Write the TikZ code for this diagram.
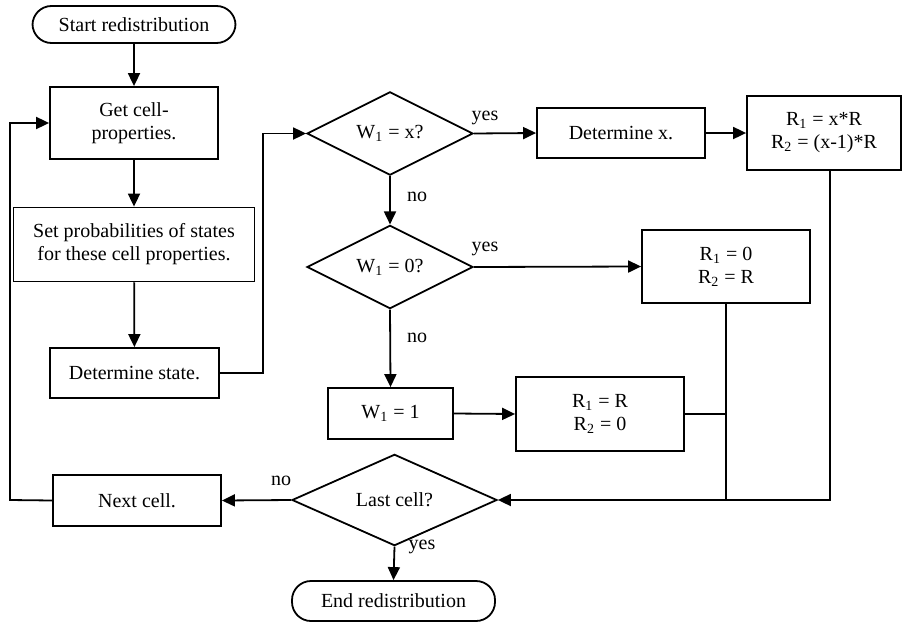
\documentclass[tikz,border=0pt]{standalone}
\usepackage{fontspec}
\setmainfont{Liberation Serif}
\usetikzlibrary{shapes.geometric,arrows.meta}
\begin{document}
\begin{tikzpicture}[x=0.5pt,y=-0.5pt,
  every node/.style={font=\fontsize{10}{11.5}\selectfont},
  box/.style={draw,line width=0.9pt,inner sep=0pt,align=center},
  term/.style={draw,line width=0.9pt,rounded corners=9.5pt,inner sep=0pt},
  dec/.style={draw,diamond,line width=0.9pt,inner sep=0pt},
  arr/.style={line width=0.9pt,-{Triangle[length=6.5pt,width=6pt]}},
  ln/.style={line width=0.9pt},
  lbl/.style={inner sep=0pt}]
\useasboundingbox (0,0) rectangle (903,626);
\node[term,minimum width=101.5pt,minimum height=18.5pt] (start) at (134,24.5) {Start redistribution};
\node[box,minimum width=84pt,minimum height=36pt] (get) at (134,123) {Get cell-\\properties.};
\node[box,minimum width=120.5pt,minimum height=37pt] (setp) at (134,244.5) {Set probabilities of states\\for these cell properties.};
\node[box,minimum width=84.5pt,minimum height=25pt] (dets) at (134.5,373) {Determine state.};
\node[dec,minimum width=83pt,minimum height=36.5pt] (d1) at (390,133.5) {W\textsubscript{1} = x?};
\node[box,minimum width=84pt,minimum height=25pt] (detx) at (621,133) {Determine x.};
\node[box,minimum width=77pt,minimum height=37pt] (r1) at (824,133) {R\textsubscript{1} = x*R\\R\textsubscript{2} = (x-1)*R};
\node[dec,minimum width=83pt,minimum height=36pt] (d2) at (390,267) {W\textsubscript{1} = 0?};
\node[box,minimum width=84pt,minimum height=36.5pt] (r0) at (726,266.5) {R\textsubscript{1} = 0\\R\textsubscript{2} = R};
\node[box,minimum width=62.5pt,minimum height=25.5pt] (w1) at (390.5,413.5) {W\textsubscript{1} = 1};
\node[box,minimum width=84pt,minimum height=37pt] (rr) at (600,414) {R\textsubscript{1} = R\\R\textsubscript{2} = 0};
\node[dec,minimum width=102.5pt,minimum height=37pt] (d3) at (394.5,500) {Last cell?};
\node[box,minimum width=84pt,minimum height=25.5pt] (next) at (137,500.5) {Next cell.};
\node[term,minimum width=101.5pt,minimum height=20pt] (end) at (393.5,601) {End redistribution};

\coordinate (c1) at (263,373);
\coordinate (j1) at (830,500);
\coordinate (c2) at (10,500);

\draw[arr] (start) -- (get);
\draw[arr] (get) -- (setp);
\draw[arr] (setp) -- (dets);
\draw[arr] (dets.east) -- (c1) |- (d1.west);
\draw[arr] (d1.east) -- (detx.west);
\draw[arr] (detx.east) -- (r1.west);
\draw[arr] (d1.south) -- (d2.north);
\draw[arr] (d2.east) -- (r0.west);
\draw[arr] (d2.south) -- (w1.north);
\draw[arr] (w1.east) -- (rr.west);
\draw[ln] (rr.east) -- (rr.east -| r0.south);
\draw[ln] (r0.south) -- (r0.south |- d3.east);
\draw[arr] (r1.south -| j1) -- (j1) -- (d3.east);
\draw[arr] (d3.west) -- (next.east);
\draw[arr] (next.west) -- (c2) |- (get.west);
\draw[arr] (d3.south) -- (end.north);

\node[lbl] (l1) at (485,118) {yes};
\node[lbl] (l2) at (417,197) {no};
\node[lbl] (l3) at (485,249) {yes};
\node[lbl] (l4) at (417,338) {no};
\node[lbl] (l5) at (281,481) {no};
\node[lbl] (l6) at (422,547) {yes};
\end{tikzpicture}
\end{document}
